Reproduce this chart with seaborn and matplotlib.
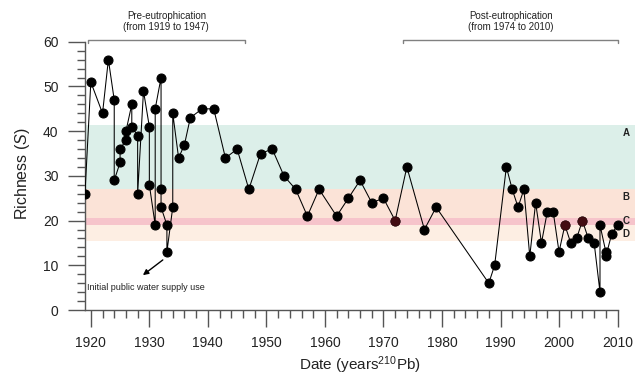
#!/usr/bin/env python3
import pandas as pd
import matplotlib
matplotlib.use("Agg")
import matplotlib.pyplot as plt
from matplotlib.ticker import MultipleLocator
import seaborn as sns

# Richness per dated sediment sample (several samples share a year)
years = [1919, 1920, 1922, 1923, 1924, 1924, 1925, 1925, 1926, 1926,
         1927, 1927, 1928, 1928, 1929, 1930, 1930, 1931, 1931, 1932,
         1932, 1932, 1933, 1933, 1934, 1934, 1935, 1936, 1937, 1939,
         1941, 1943, 1945, 1947, 1949, 1951, 1953, 1955, 1957, 1959,
         1962, 1964, 1966, 1968, 1970, 1972, 1974, 1977, 1979, 1988,
         1989, 1991, 1992, 1993, 1994, 1995, 1996, 1997, 1998, 1999,
         2000, 2001, 2002, 2003, 2004, 2005, 2006, 2007, 2007, 2008,
         2008, 2009, 2010]
richness = [26, 51, 44, 56, 47, 29, 33, 36, 38, 40,
            46, 41, 39, 26, 49, 41, 28, 19, 45, 52,
            27, 23, 19, 13, 23, 44, 34, 37, 43, 45,
            45, 34, 36, 27, 35, 36, 30, 27, 21, 27,
            21, 25, 29, 24, 25, 20, 32, 18, 23, 6,
            10, 32, 27, 23, 27, 12, 24, 15, 22, 22,
            13, 19, 15, 16, 20, 16, 15, 4, 19, 13,
            12, 17, 19]

# samples drawn with dark red markers
red_years = [1972, 2001, 2004]
red_richness = [20, 19, 20]

# richness zones
zone_labels = ["A", "B", "C", "D"]
zone_low = [27, 20.6, 19, 15.5]
zone_high = [41.3, 27, 20.6, 19]
zone_colors = ["#dcefe9", "#fbe3d7", "#f6c4cb", "#fdeee3"]
zone_label_y = [39.6, 25.3, 19.8, 17]

# period brackets
periods = ["Pre-eutrophication\n(from 1919 to 1947)",
           "Post-eutrophication\n(from 1974 to 2010)"]
period_start = [1919.5, 1973.4]
period_end = [1946.3, 2010.1]

df = pd.DataFrame({"year": years, "richness": richness})
df_red = pd.DataFrame({"year": red_years, "richness": red_richness})

sns.set_style("ticks")
plt.rcParams["font.family"] = ["Liberation Sans", "DejaVu Sans"]
plt.rcParams["mathtext.fontset"] = "custom"
plt.rcParams["mathtext.rm"] = "Liberation Sans"
plt.rcParams["mathtext.it"] = "Liberation Sans:italic"

fig = plt.figure(figsize=(6.36, 3.80), dpi=100)
ax = fig.add_axes([0.1336, 0.1842, 0.8650, 0.7176])

for lo, hi, c in zip(zone_low, zone_high, zone_colors):
    ax.axhspan(lo, hi, color=c, lw=0, zorder=0)
for lab, yl in zip(zone_labels, zone_label_y):
    ax.text(2011.5, yl, lab, fontsize=7, fontweight="bold", color="#222222",
            ha="center", va="center")

sns.lineplot(data=df, x="year", y="richness", sort=False, estimator=None,
             color="black", lw=0.75, marker="o", markersize=6.5,
             markeredgecolor="black", ax=ax, zorder=3)
sns.scatterplot(data=df_red, x="year", y="richness", color="#420c12",
                s=42, edgecolor="#420c12", ax=ax, zorder=4)

# brackets above the plot
for lab, x0, x1 in zip(periods, period_start, period_end):
    ax.plot([x0, x0, x1, x1], [59.8, 60.5, 60.5, 59.8], color="#808080",
            lw=1, clip_on=False)
    ax.text((x0 + x1) / 2, 64.6, lab, fontsize=7, ha="center", va="center",
            color="#222222", clip_on=False, linespacing=1.1)

# arrow to the 1933 minimum
ax.annotate("", xy=(1928.9, 7.8), xytext=(1932.3, 11.2),
            arrowprops=dict(arrowstyle="-|>", color="black", lw=1,
                            mutation_scale=8, shrinkA=0, shrinkB=0))
ax.text(1919.4, 5.1, "Initial public water supply use", fontsize=6.5,
        color="#222222", va="center")

ax.set_xlim(1919, 2013)
ax.set_ylim(0, 61)
ax.spines["left"].set_bounds(0, 60)
ax.spines["bottom"].set_bounds(1919, 2010)
ax.spines["top"].set_visible(False)
ax.spines["right"].set_visible(False)
for s in ["left", "bottom"]:
    ax.spines[s].set_color("#555555")
    ax.spines[s].set_linewidth(1)

ax.set_xticks(range(1920, 2011, 10))
ax.set_xticks(range(1922, 2010, 2), minor=True)
ax.set_yticks(range(0, 61, 10))
ax.yaxis.set_minor_locator(MultipleLocator(2))
ax.tick_params(which="major", length=12, width=1, color="#555555",
               labelsize=10, labelcolor="#222222")
ax.tick_params(which="minor", length=6, width=1, color="#555555")
ax.tick_params(axis="x", which="major", pad=7)
ax.tick_params(axis="y", which="major", pad=7)

ax.set_xlabel("Date (years$^{210}$Pb)", fontsize=11, color="#222222", labelpad=3)
ax.set_ylabel("Richness ($S$)", fontsize=11.5, color="#222222", labelpad=8)

fig.savefig("out.png", dpi=100)
